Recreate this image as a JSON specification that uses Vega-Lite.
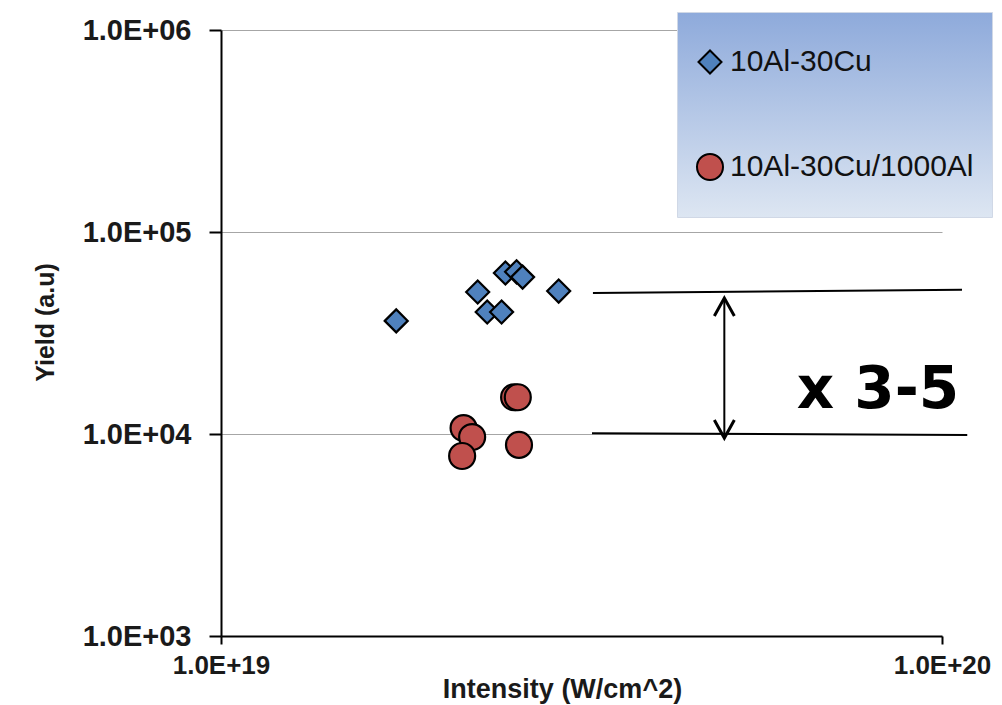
{
  "$schema": "https://vega.github.io/schema/vega-lite/v6.json",
  "width": 721,
  "height": 606,
  "autosize": {"type": "none"},
  "padding": {"left": 221, "top": 30, "right": 60, "bottom": 69},
  "background": "white",
  "config": {"view": {"stroke": null}, "font": "Liberation Sans"},
  "datasets": {
    "points": [
      {"series": "10Al-30Cu", "intensity": 1.75e19, "yield": 36300},
      {"series": "10Al-30Cu", "intensity": 2.27e19, "yield": 50500},
      {"series": "10Al-30Cu", "intensity": 2.34e19, "yield": 40200},
      {"series": "10Al-30Cu", "intensity": 2.45e19, "yield": 40200},
      {"series": "10Al-30Cu", "intensity": 2.48e19, "yield": 62700},
      {"series": "10Al-30Cu", "intensity": 2.57e19, "yield": 63500},
      {"series": "10Al-30Cu", "intensity": 2.62e19, "yield": 59800},
      {"series": "10Al-30Cu", "intensity": 2.94e19, "yield": 51000},
      {"series": "10Al-30Cu/1000Al", "intensity": 2.55e19, "yield": 15200},
      {"series": "10Al-30Cu/1000Al", "intensity": 2.58e19, "yield": 15200},
      {"series": "10Al-30Cu/1000Al", "intensity": 2.17e19, "yield": 10700},
      {"series": "10Al-30Cu/1000Al", "intensity": 2.23e19, "yield": 9660},
      {"series": "10Al-30Cu/1000Al", "intensity": 2.16e19, "yield": 7780},
      {"series": "10Al-30Cu/1000Al", "intensity": 2.59e19, "yield": 8830}
    ],
    "guides": [
      {"xa": 3.28e19, "xb": 1.066e20, "ya": 49900, "yb": 51700},
      {"xa": 3.27e19, "xb": 1.084e20, "ya": 10100, "yb": 9890}
    ],
    "arrow": [{"xa": 4.99e19, "ytop": 47100, "ybottom": 9550}],
    "note": [{"xa": 8.15e19, "ya": 16300, "label": "x 3-5"}]
  },
  "layer": [
    {
      "data": {"name": "points"},
      "mark": {"type": "point", "filled": true, "stroke": "black", "strokeWidth": 2.2, "opacity": 1},
      "encoding": {
        "x": {
          "field": "intensity", "type": "quantitative", "title": "Intensity (W/cm^2)",
          "scale": {"type": "log", "domain": [1e19, 1e20], "nice": false},
          "axis": {
            "values": [1e19, 1e20],
            "labelExpr": "'1.0E+' + round(log(datum.value)/LN10)",
            "grid": false,
            "domainColor": "black", "domainWidth": 2,
            "tickColor": "black", "tickWidth": 2, "tickSize": 8,
            "labelFont": "Liberation Sans", "labelFontWeight": "bold", "labelFontSize": 26, "labelColor": "#1a1a1a",
            "labelPadding": 8, "labelFlush": false, "labelOverlap": false, "labelBound": false,
            "titleFont": "Liberation Sans", "titleFontWeight": "bold", "titleFontSize": 27, "titleColor": "#1a1a1a",
            "titleX": 341, "titleY": 61, "titleBaseline": "alphabetic", "titleAlign": "center"
          }
        },
        "y": {
          "field": "yield", "type": "quantitative", "title": "Yield (a.u)",
          "scale": {"type": "log", "domain": [1000, 1000000], "nice": false},
          "axis": {
            "values": [1000, 10000, 100000, 1000000],
            "labelExpr": "'1.0E+0' + round(log(datum.value)/LN10)",
            "grid": true, "gridColor": "#a6a6a6", "gridWidth": 1,
            "domainColor": "black", "domainWidth": 2,
            "tickColor": "black", "tickWidth": 2, "tickSize": 12,
            "labelFont": "Liberation Sans", "labelFontWeight": "bold", "labelFontSize": 29, "labelColor": "#1a1a1a",
            "labelPadding": 18, "labelOverlap": false, "labelBound": false,
            "titleFont": "Liberation Sans", "titleFontWeight": "bold", "titleFontSize": 25, "titleColor": "#1a1a1a",
            "titleX": -176, "titleY": 292, "titleAngle": 270, "titleBaseline": "middle", "titleAlign": "center"
          }
        },
        "shape": {
          "field": "series", "type": "nominal",
          "scale": {"domain": ["10Al-30Cu", "10Al-30Cu/1000Al"], "range": ["diamond", "circle"]},
          "legend": {
            "title": null,
            "orient": "none", "legendX": 456, "legendY": -18, "padding": 18,
            "fillColor": {"value": {"gradient": "linear", "x1": 0, "y1": 0, "x2": 0, "y2": 1, "stops": [{"offset": 0, "color": "#8eaadb"}, {"offset": 1, "color": "#dde6f2"}]}},
            "strokeColor": "#d0d8e6",
            "labelFont": "Liberation Sans", "labelFontSize": 30, "labelColor": "#111111", "labelOffset": 5, "labelLimit": 400,
            "symbolSize": 450, "symbolStrokeColor": "black", "symbolStrokeWidth": 2,
            "clipHeight": 64, "rowPadding": 41
          }
        },
        "color": {
          "field": "series", "type": "nominal",
          "scale": {"domain": ["10Al-30Cu", "10Al-30Cu/1000Al"], "range": ["#4f81bd", "#c0504d"]},
          "legend": {
            "title": null,
            "orient": "none", "legendX": 456, "legendY": -18, "padding": 18,
            "fillColor": {"value": {"gradient": "linear", "x1": 0, "y1": 0, "x2": 0, "y2": 1, "stops": [{"offset": 0, "color": "#8eaadb"}, {"offset": 1, "color": "#dde6f2"}]}},
            "strokeColor": "#d0d8e6",
            "labelFont": "Liberation Sans", "labelFontSize": 30, "labelColor": "#111111", "labelOffset": 5, "labelLimit": 400,
            "symbolSize": 450, "symbolStrokeColor": "black", "symbolStrokeWidth": 2,
            "clipHeight": 64, "rowPadding": 41
          }
        },
        "size": {
          "field": "series", "type": "nominal",
          "scale": {"domain": ["10Al-30Cu", "10Al-30Cu/1000Al"], "range": [529, 676]},
          "legend": null
        }
      }
    },
    {
      "data": {"name": "guides"},
      "mark": {"type": "rule", "color": "black", "strokeWidth": 2},
      "encoding": {
        "x": {"field": "xa", "type": "quantitative", "title": "Intensity (W/cm^2)", "scale": {"type": "log", "domain": [1e19, 1e20], "nice": false}},
        "x2": {"field": "xb"},
        "y": {"field": "ya", "type": "quantitative", "title": "Yield (a.u)", "scale": {"type": "log", "domain": [1000, 1000000], "nice": false}},
        "y2": {"field": "yb"}
      }
    },
    {
      "data": {"name": "arrow"},
      "mark": {"type": "rule", "color": "black", "strokeWidth": 2},
      "encoding": {
        "x": {"field": "xa", "type": "quantitative", "title": "Intensity (W/cm^2)", "scale": {"type": "log", "domain": [1e19, 1e20], "nice": false}},
        "y": {"field": "ytop", "type": "quantitative", "title": "Yield (a.u)", "scale": {"type": "log", "domain": [1000, 1000000], "nice": false}},
        "y2": {"field": "ybottom"}
      }
    },
    {
      "data": {"name": "arrow"},
      "mark": {"type": "point", "shape": "M-1,1.8L0,0L1,1.8", "filled": false, "stroke": "black", "strokeWidth": 3, "size": 400, "opacity": 1},
      "encoding": {
        "x": {"field": "xa", "type": "quantitative", "title": "Intensity (W/cm^2)", "scale": {"type": "log", "domain": [1e19, 1e20], "nice": false}},
        "y": {"field": "ytop", "type": "quantitative", "title": "Yield (a.u)", "scale": {"type": "log", "domain": [1000, 1000000], "nice": false}}
      }
    },
    {
      "data": {"name": "arrow"},
      "mark": {"type": "point", "shape": "M-1,-1.8L0,0L1,-1.8", "filled": false, "stroke": "black", "strokeWidth": 3, "size": 400, "opacity": 1},
      "encoding": {
        "x": {"field": "xa", "type": "quantitative", "title": "Intensity (W/cm^2)", "scale": {"type": "log", "domain": [1e19, 1e20], "nice": false}},
        "y": {"field": "ybottom", "type": "quantitative", "title": "Yield (a.u)", "scale": {"type": "log", "domain": [1000, 1000000], "nice": false}}
      }
    },
    {
      "data": {"name": "note"},
      "mark": {"type": "text", "font": "DejaVu Sans", "fontWeight": "bold", "fontSize": 58, "align": "center", "baseline": "middle", "color": "black"},
      "encoding": {
        "x": {"field": "xa", "type": "quantitative", "title": "Intensity (W/cm^2)", "scale": {"type": "log", "domain": [1e19, 1e20], "nice": false}},
        "y": {"field": "ya", "type": "quantitative", "title": "Yield (a.u)", "scale": {"type": "log", "domain": [1000, 1000000], "nice": false}},
        "text": {"field": "label"}
      }
    }
  ]
}
